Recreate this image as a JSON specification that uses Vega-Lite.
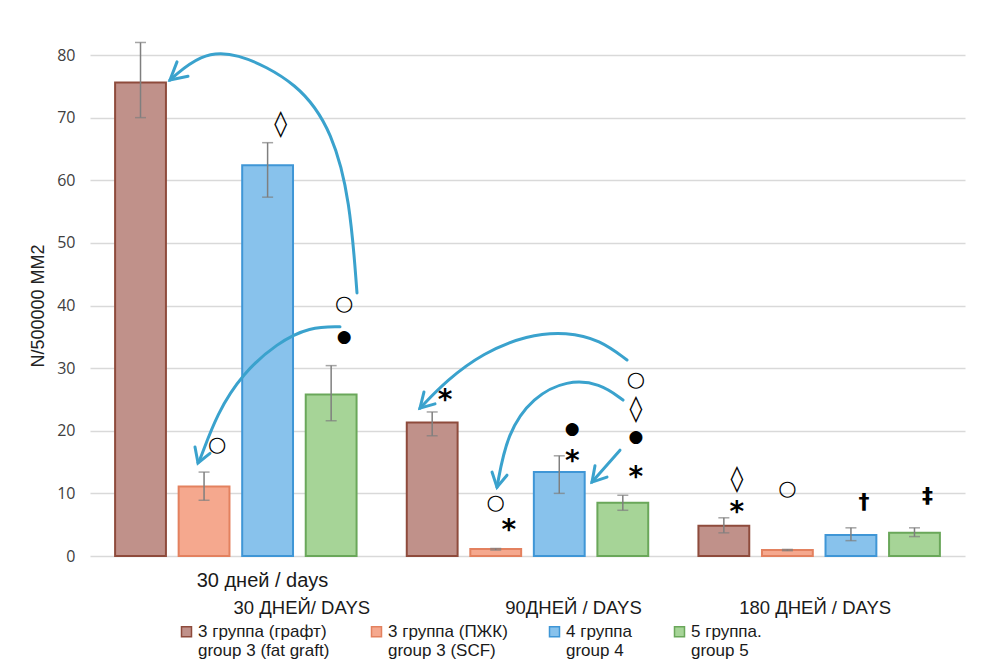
{
  "$schema": "https://vega.github.io/schema/vega-lite/v6.json",
  "width": 875,
  "height": 501,
  "autosize": {"type": "none"},
  "padding": {"left": 90, "top": 55, "right": 23, "bottom": 115},
  "background": "white",
  "config": {
    "view": {"stroke": null},
    "font": "Liberation Sans",
    "axis": {"labelColor": "#404040", "titleColor": "#222222"},
    "text": {"font": "DejaVu Sans", "fontWeight": "bold", "color": "#000000", "baseline": "middle"}
  },
  "datasets": {
    "bars": [
      {"group": "30 ДНЕЙ/ DAYS", "series": "3 группа (графт)|group 3 (fat graft)", "value": 75.6, "lo": 70.0, "hi": 82.0},
      {"group": "30 ДНЕЙ/ DAYS", "series": "3 группа (ПЖК)|group 3 (SCF)", "value": 11.1, "lo": 8.9, "hi": 13.4},
      {"group": "30 ДНЕЙ/ DAYS", "series": "4 группа|group 4", "value": 62.4, "lo": 57.3, "hi": 66.0},
      {"group": "30 ДНЕЙ/ DAYS", "series": "5 группа.|group 5", "value": 25.8, "lo": 21.6, "hi": 30.4},
      {"group": "90ДНЕЙ / DAYS", "series": "3 группа (графт)|group 3 (fat graft)", "value": 21.3, "lo": 19.2, "hi": 23.0},
      {"group": "90ДНЕЙ / DAYS", "series": "3 группа (ПЖК)|group 3 (SCF)", "value": 1.1, "lo": 0.95, "hi": 1.2},
      {"group": "90ДНЕЙ / DAYS", "series": "4 группа|group 4", "value": 13.4, "lo": 10.0, "hi": 16.0},
      {"group": "90ДНЕЙ / DAYS", "series": "5 группа.|group 5", "value": 8.5, "lo": 7.3, "hi": 9.7},
      {"group": "180 ДНЕЙ / DAYS", "series": "3 группа (графт)|group 3 (fat graft)", "value": 4.85, "lo": 3.7, "hi": 6.1},
      {"group": "180 ДНЕЙ / DAYS", "series": "3 группа (ПЖК)|group 3 (SCF)", "value": 0.96, "lo": 0.85, "hi": 1.05},
      {"group": "180 ДНЕЙ / DAYS", "series": "4 группа|group 4", "value": 3.35, "lo": 2.45, "hi": 4.5},
      {"group": "180 ДНЕЙ / DAYS", "series": "5 группа.|group 5", "value": 3.7, "lo": 3.1, "hi": 4.5}
    ],
    "marks_right": [
      {"group": "30 ДНЕЙ/ DAYS", "series": "4 группа|group 4", "sym": "◊", "ypos": 69.0},
      {"group": "30 ДНЕЙ/ DAYS", "series": "5 группа.|group 5", "sym": "○", "ypos": 40.3},
      {"group": "30 ДНЕЙ/ DAYS", "series": "5 группа.|group 5", "sym": "●", "ypos": 35.0},
      {"group": "30 ДНЕЙ/ DAYS", "series": "3 группа (ПЖК)|group 3 (SCF)", "sym": "○", "ypos": 17.7},
      {"group": "90ДНЕЙ / DAYS", "series": "3 группа (графт)|group 3 (fat graft)", "sym": "*", "ypos": 24.7},
      {"group": "90ДНЕЙ / DAYS", "series": "5 группа.|group 5", "sym": "○", "ypos": 28.1},
      {"group": "90ДНЕЙ / DAYS", "series": "5 группа.|group 5", "sym": "◊", "ypos": 23.5},
      {"group": "90ДНЕЙ / DAYS", "series": "5 группа.|group 5", "sym": "●", "ypos": 19.0},
      {"group": "90ДНЕЙ / DAYS", "series": "5 группа.|group 5", "sym": "*", "ypos": 12.4},
      {"group": "90ДНЕЙ / DAYS", "series": "4 группа|group 4", "sym": "●", "ypos": 20.3},
      {"group": "90ДНЕЙ / DAYS", "series": "4 группа|group 4", "sym": "*", "ypos": 15.0},
      {"group": "90ДНЕЙ / DAYS", "series": "3 группа (ПЖК)|group 3 (SCF)", "sym": "*", "ypos": 4.0},
      {"group": "180 ДНЕЙ / DAYS", "series": "3 группа (графт)|group 3 (fat graft)", "sym": "◊", "ypos": 12.3},
      {"group": "180 ДНЕЙ / DAYS", "series": "3 группа (графт)|group 3 (fat graft)", "sym": "*", "ypos": 6.8},
      {"group": "180 ДНЕЙ / DAYS", "series": "4 группа|group 4", "sym": "†", "ypos": 8.6},
      {"group": "180 ДНЕЙ / DAYS", "series": "5 группа.|group 5", "sym": "‡", "ypos": 9.6}
    ],
    "marks_center": [
      {"group": "90ДНЕЙ / DAYS", "series": "3 группа (ПЖК)|group 3 (SCF)", "sym": "○", "ypos": 8.5},
      {"group": "180 ДНЕЙ / DAYS", "series": "3 группа (ПЖК)|group 3 (SCF)", "sym": "○", "ypos": 10.7}
    ],
    "arrows": [
      {"arrow": "a1", "step": 1, "ax": 0.9154, "ay": 42.0},
      {"arrow": "a1", "step": 2, "ax": 0.8914, "ay": 56.8},
      {"arrow": "a1", "step": 3, "ax": 0.8331, "ay": 67.5},
      {"arrow": "a1", "step": 4, "ax": 0.72, "ay": 75.5},
      {"arrow": "a1", "step": 5, "ax": 0.4903, "ay": 80.8},
      {"arrow": "a1", "step": 6, "ax": 0.3771, "ay": 80.0},
      {"arrow": "a1", "step": 7, "ax": 0.2846, "ay": 76.5},
      {"arrow": "a1", "step": 8, "ax": 0.2743, "ay": 76.0},
      {"arrow": "a2", "step": 1, "ax": 0.8571, "ay": 36.6},
      {"arrow": "a2", "step": 2, "ax": 0.7543, "ay": 36.6},
      {"arrow": "a2", "step": 3, "ax": 0.6411, "ay": 34.0},
      {"arrow": "a2", "step": 4, "ax": 0.5246, "ay": 29.2},
      {"arrow": "a2", "step": 5, "ax": 0.4354, "ay": 22.8},
      {"arrow": "a2", "step": 6, "ax": 0.3771, "ay": 15.3},
      {"arrow": "a2", "step": 7, "ax": 0.3703, "ay": 14.9},
      {"arrow": "a3", "step": 1, "ax": 1.8411, "ay": 31.3},
      {"arrow": "a3", "step": 2, "ax": 1.7486, "ay": 34.5},
      {"arrow": "a3", "step": 3, "ax": 1.6354, "ay": 35.8},
      {"arrow": "a3", "step": 4, "ax": 1.4983, "ay": 35.3},
      {"arrow": "a3", "step": 5, "ax": 1.3474, "ay": 32.4},
      {"arrow": "a3", "step": 6, "ax": 1.224, "ay": 28.1},
      {"arrow": "a3", "step": 7, "ax": 1.1314, "ay": 23.6},
      {"arrow": "a4", "step": 1, "ax": 1.8274, "ay": 24.9},
      {"arrow": "a4", "step": 2, "ax": 1.7486, "ay": 27.6},
      {"arrow": "a4", "step": 3, "ax": 1.6354, "ay": 28.1},
      {"arrow": "a4", "step": 4, "ax": 1.5189, "ay": 25.4},
      {"arrow": "a4", "step": 5, "ax": 1.4297, "ay": 19.6},
      {"arrow": "a4", "step": 6, "ax": 1.3954, "ay": 11.0},
      {"arrow": "a5", "step": 1, "ax": 1.8171, "ay": 16.9},
      {"arrow": "a5", "step": 2, "ax": 1.7211, "ay": 11.8}
    ],
    "heads": [
      {"arrow": "a1", "step": 1, "ax": 0.336, "ay": 76.6},
      {"arrow": "a1", "step": 2, "ax": 0.2743, "ay": 76.0},
      {"arrow": "a1", "step": 3, "ax": 0.2983, "ay": 78.9},
      {"arrow": "a2", "step": 1, "ax": 0.4114, "ay": 16.4},
      {"arrow": "a2", "step": 2, "ax": 0.3703, "ay": 14.85},
      {"arrow": "a2", "step": 3, "ax": 0.36, "ay": 17.4},
      {"arrow": "a3", "step": 1, "ax": 1.1829, "ay": 24.3},
      {"arrow": "a3", "step": 2, "ax": 1.1314, "ay": 23.6},
      {"arrow": "a3", "step": 3, "ax": 1.1451, "ay": 26.2},
      {"arrow": "a4", "step": 1, "ax": 1.4297, "ay": 12.9},
      {"arrow": "a4", "step": 2, "ax": 1.3954, "ay": 11.0},
      {"arrow": "a4", "step": 3, "ax": 1.3783, "ay": 13.4},
      {"arrow": "a5", "step": 1, "ax": 1.7726, "ay": 12.6},
      {"arrow": "a5", "step": 2, "ax": 1.7211, "ay": 11.8},
      {"arrow": "a5", "step": 3, "ax": 1.7314, "ay": 14.4}
    ]
  },
  "resolve": {"scale": {"x": "independent"}},
  "layer": [
    {
      "encoding": {
        "x": {
          "field": "group",
          "type": "nominal",
          "sort": ["30 ДНЕЙ/ DAYS", "90ДНЕЙ / DAYS", "180 ДНЕЙ / DAYS"],
          "scale": {"domain": ["30 ДНЕЙ/ DAYS", "90ДНЕЙ / DAYS", "180 ДНЕЙ / DAYS"], "paddingInner": 0, "paddingOuter": 0},
          "title": "30 дней / days",
          "axis": {
            "labelAngle": 0,
            "domain": false,
            "ticks": false,
            "labelFontSize": 18.5,
            "labelColor": "#1a1a1a",
            "labelBaseline": "middle",
            "labelPadding": 51,
            "labelOffset": {
              "condition": [
                {"test": "datum.value === '30 ДНЕЙ/ DAYS'", "value": 66},
                {"test": "datum.value === '90ДНЕЙ / DAYS'", "value": 46}
              ],
              "value": -4
            },
            "titleFontSize": 20,
            "titleFontWeight": "normal",
            "titleColor": "#1a1a1a",
            "titleX": 172,
            "titleY": 24,
            "titleBaseline": "middle",
            "titleAlign": "center"
          }
        },
        "xOffset": {
          "field": "series",
          "type": "nominal",
          "scale": {
            "domain": ["3 группа (графт)|group 3 (fat graft)", "3 группа (ПЖК)|group 3 (SCF)", "4 группа|group 4", "5 группа.|group 5"],
            "paddingInner": 0.2,
            "paddingOuter": 0.395
          }
        }
      },
      "layer": [
        {
          "data": {"name": "bars"},
          "mark": {"type": "bar", "strokeWidth": 2},
          "encoding": {
            "y": {
              "field": "value",
              "type": "quantitative",
              "title": "N/500000  MM2",
              "scale": {"domain": [0, 80], "nice": false},
              "axis": {
                "values": [0, 10, 20, 30, 40, 50, 60, 70, 80],
                "domain": false,
                "ticks": false,
                "gridColor": "#d9d9d9",
                "gridWidth": 1.5,
                "labelFont": "Open Sans",
                "labelFontSize": 16,
                "labelPadding": 15,
                "titleFont": "Liberation Sans",
                "titleFontSize": 18,
                "titleFontWeight": "normal",
                "titlePadding": 9
              }
            },
            "fill": {
              "field": "series",
              "type": "nominal",
              "title": null,
              "scale": {
                "domain": ["3 группа (графт)|group 3 (fat graft)", "3 группа (ПЖК)|group 3 (SCF)", "4 группа|group 4", "5 группа.|group 5"],
                "range": ["#c0918a", "#f5a88e", "#88c2ec", "#a6d497"]
              },
              "legend": {
                "orient": "none",
                "legendX": 88,
                "legendY": 568,
                "direction": "horizontal",
                "columns": 4,
                "columnPadding": 38,
                "symbolType": "square",
                "symbolSize": 100,
                "symbolStrokeWidth": 1.5,
                "labelFontSize": 17,
                "labelColor": "#1a1a1a",
                "labelOffset": 3,
                "labelLimit": 300,
                "labelExpr": "split(datum.label, '|')"
              }
            },
            "stroke": {
              "field": "series",
              "type": "nominal",
              "title": null,
              "scale": {
                "domain": ["3 группа (графт)|group 3 (fat graft)", "3 группа (ПЖК)|group 3 (SCF)", "4 группа|group 4", "5 группа.|group 5"],
                "range": ["#8e4b3c", "#e3815f", "#3f96d6", "#6aa75a"]
              },
              "legend": {
                "orient": "none",
                "legendX": 88,
                "legendY": 568,
                "direction": "horizontal",
                "columns": 4,
                "columnPadding": 38,
                "symbolType": "square",
                "symbolSize": 100,
                "symbolStrokeWidth": 1.5,
                "labelFontSize": 17,
                "labelColor": "#1a1a1a",
                "labelOffset": 3,
                "labelLimit": 300,
                "labelExpr": "split(datum.label, '|')"
              }
            }
          }
        },
        {
          "data": {"name": "bars"},
          "mark": {"type": "rule", "color": "#7f7f7f", "strokeWidth": 1.5},
          "encoding": {
            "y": {"field": "lo", "type": "quantitative", "title": "N/500000  MM2"},
            "y2": {"field": "hi"}
          }
        },
        {
          "data": {"name": "bars"},
          "mark": {"type": "tick", "color": "#7f7f7f", "size": 11, "thickness": 1.5},
          "encoding": {
            "y": {"field": "lo", "type": "quantitative", "title": "N/500000  MM2"}
          }
        },
        {
          "data": {"name": "bars"},
          "mark": {"type": "tick", "color": "#7f7f7f", "size": 11, "thickness": 1.5},
          "encoding": {
            "y": {"field": "hi", "type": "quantitative", "title": "N/500000  MM2"}
          }
        },
        {
          "data": {"name": "marks_right"},
          "encoding": {
            "y": {"field": "ypos", "type": "quantitative", "title": "N/500000  MM2"},
            "text": {"field": "sym"}
          },
          "layer": [
            {"transform": [{"filter": "datum.sym === '○'"}], "mark": {"type": "text", "dx": 13, "fontSize": 21}},
            {"transform": [{"filter": "datum.sym === '●'"}], "mark": {"type": "text", "dx": 13, "fontSize": 17}},
            {"transform": [{"filter": "datum.sym === '◊'"}], "mark": {"type": "text", "dx": 13, "fontSize": 26}},
            {"transform": [{"filter": "datum.sym === '*'"}], "mark": {"type": "text", "dx": 13, "fontSize": 28}},
            {"transform": [{"filter": "datum.sym === '†' || datum.sym === '‡'"}], "mark": {"type": "text", "dx": 13, "fontSize": 22}}
          ]
        },
        {
          "data": {"name": "marks_center"},
          "mark": {"type": "text", "fontSize": 21},
          "encoding": {
            "y": {"field": "ypos", "type": "quantitative", "title": "N/500000  MM2"},
            "text": {"field": "sym"}
          }
        }
      ]
    },
    {
      "encoding": {
        "x": {"field": "ax", "type": "quantitative", "scale": {"domain": [0, 3], "nice": false, "zero": false}, "axis": null},
        "y": {"field": "ay", "type": "quantitative", "title": "N/500000  MM2"},
        "detail": {"field": "arrow", "type": "nominal"},
        "order": {"field": "step", "type": "quantitative"}
      },
      "layer": [
        {
          "data": {"name": "arrows"},
          "mark": {"type": "line", "interpolate": "basis", "color": "#3aa2cd", "strokeWidth": 3, "strokeCap": "round"}
        },
        {
          "data": {"name": "heads"},
          "mark": {"type": "line", "interpolate": "linear", "color": "#3aa2cd", "strokeWidth": 3, "strokeCap": "round", "strokeJoin": "miter"}
        }
      ]
    }
  ]
}
